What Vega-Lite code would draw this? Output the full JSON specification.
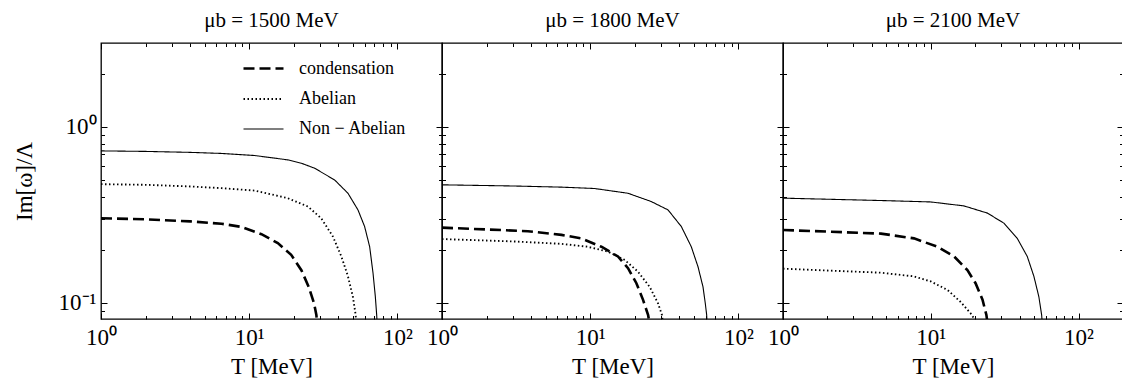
{
  "$schema": "https://vega.github.io/schema/vega-lite/v6.json",
  "autosize": {"type": "pad"},
  "padding": {"left": 12, "top": 8, "right": 0, "bottom": 0},
  "background": "white",
  "spacing": 0,
  "bounds": "flush",
  "config": {
    "font": "Liberation Serif",
    "view": {"stroke": "black", "strokeWidth": 1.3},
    "axis": {"domain": false, "grid": false, "tickColor": "black", "tickWidth": 1, "labelColor": "black", "titleColor": "black", "labelFontSize": 23, "titleFontSize": 23, "titleFontWeight": "normal", "labelOverlap": false, "labelFlush": false},
    "title": {"fontSize": 21, "fontWeight": "normal", "frame": "group", "anchor": "middle", "color": "black", "offset": 12},
    "legend": {"orient": "none", "legendX": 141, "legendY": 4, "labelFontSize": 18, "symbolType": "stroke", "symbolSize": 1600, "symbolStrokeColor": "black", "labelOffset": 14, "rowPadding": -2.5, "labelColor": "black"}
  },
  "data": {"values": [
    {"mu": 1500, "s": "Non − Abelian", "T": 1, "v": 0.730},
    {"mu": 1500, "s": "Non − Abelian", "T": 2, "v": 0.725},
    {"mu": 1500, "s": "Non − Abelian", "T": 4, "v": 0.716},
    {"mu": 1500, "s": "Non − Abelian", "T": 6.5, "v": 0.706},
    {"mu": 1500, "s": "Non − Abelian", "T": 10.9, "v": 0.687},
    {"mu": 1500, "s": "Non − Abelian", "T": 18.2, "v": 0.649},
    {"mu": 1500, "s": "Non − Abelian", "T": 22.5, "v": 0.621},
    {"mu": 1500, "s": "Non − Abelian", "T": 27.6, "v": 0.582},
    {"mu": 1500, "s": "Non − Abelian", "T": 37.7, "v": 0.499},
    {"mu": 1500, "s": "Non − Abelian", "T": 46.4, "v": 0.419},
    {"mu": 1500, "s": "Non − Abelian", "T": 54.2, "v": 0.337},
    {"mu": 1500, "s": "Non − Abelian", "T": 60.1, "v": 0.271},
    {"mu": 1500, "s": "Non − Abelian", "T": 65.0, "v": 0.208},
    {"mu": 1500, "s": "Non − Abelian", "T": 68.5, "v": 0.147},
    {"mu": 1500, "s": "Non − Abelian", "T": 71.0, "v": 0.108},
    {"mu": 1500, "s": "Non − Abelian", "T": 72.5, "v": 0.085},
    {"mu": 1500, "s": "Non − Abelian", "T": 73.0, "v": 0.075},
    {"mu": 1500, "s": "Abelian", "T": 1, "v": 0.472},
    {"mu": 1500, "s": "Abelian", "T": 2, "v": 0.468},
    {"mu": 1500, "s": "Abelian", "T": 4, "v": 0.458},
    {"mu": 1500, "s": "Abelian", "T": 6.5, "v": 0.448},
    {"mu": 1500, "s": "Abelian", "T": 10.9, "v": 0.434},
    {"mu": 1500, "s": "Abelian", "T": 18.2, "v": 0.393},
    {"mu": 1500, "s": "Abelian", "T": 24.9, "v": 0.352},
    {"mu": 1500, "s": "Abelian", "T": 30.6, "v": 0.302},
    {"mu": 1500, "s": "Abelian", "T": 36.7, "v": 0.238},
    {"mu": 1500, "s": "Abelian", "T": 41.9, "v": 0.183},
    {"mu": 1500, "s": "Abelian", "T": 46.4, "v": 0.141},
    {"mu": 1500, "s": "Abelian", "T": 50.1, "v": 0.108},
    {"mu": 1500, "s": "Abelian", "T": 52.3, "v": 0.085},
    {"mu": 1500, "s": "Abelian", "T": 52.8, "v": 0.075},
    {"mu": 1500, "s": "condensation", "T": 1, "v": 0.302},
    {"mu": 1500, "s": "condensation", "T": 2, "v": 0.298},
    {"mu": 1500, "s": "condensation", "T": 4, "v": 0.290},
    {"mu": 1500, "s": "condensation", "T": 6.5, "v": 0.281},
    {"mu": 1500, "s": "condensation", "T": 8.8, "v": 0.270},
    {"mu": 1500, "s": "condensation", "T": 12.1, "v": 0.245},
    {"mu": 1500, "s": "condensation", "T": 15.6, "v": 0.218},
    {"mu": 1500, "s": "condensation", "T": 19.2, "v": 0.187},
    {"mu": 1500, "s": "condensation", "T": 22.5, "v": 0.153},
    {"mu": 1500, "s": "condensation", "T": 25.2, "v": 0.123},
    {"mu": 1500, "s": "condensation", "T": 27.4, "v": 0.099},
    {"mu": 1500, "s": "condensation", "T": 28.4, "v": 0.085},
    {"mu": 1500, "s": "condensation", "T": 28.8, "v": 0.075},
    {"mu": 1800, "s": "Non − Abelian", "T": 1, "v": 0.468},
    {"mu": 1800, "s": "Non − Abelian", "T": 3, "v": 0.461},
    {"mu": 1800, "s": "Non − Abelian", "T": 6.4, "v": 0.454},
    {"mu": 1800, "s": "Non − Abelian", "T": 10.7, "v": 0.446},
    {"mu": 1800, "s": "Non − Abelian", "T": 18.0, "v": 0.419},
    {"mu": 1800, "s": "Non − Abelian", "T": 25.8, "v": 0.376},
    {"mu": 1800, "s": "Non − Abelian", "T": 33.5, "v": 0.337},
    {"mu": 1800, "s": "Non − Abelian", "T": 41.2, "v": 0.271},
    {"mu": 1800, "s": "Non − Abelian", "T": 48.1, "v": 0.208},
    {"mu": 1800, "s": "Non − Abelian", "T": 53.4, "v": 0.160},
    {"mu": 1800, "s": "Non − Abelian", "T": 57.7, "v": 0.123},
    {"mu": 1800, "s": "Non − Abelian", "T": 59.8, "v": 0.099},
    {"mu": 1800, "s": "Non − Abelian", "T": 61.1, "v": 0.085},
    {"mu": 1800, "s": "Non − Abelian", "T": 61.5, "v": 0.075},
    {"mu": 1800, "s": "Abelian", "T": 1, "v": 0.230},
    {"mu": 1800, "s": "Abelian", "T": 3, "v": 0.223},
    {"mu": 1800, "s": "Abelian", "T": 6.4, "v": 0.216},
    {"mu": 1800, "s": "Abelian", "T": 9.6, "v": 0.208},
    {"mu": 1800, "s": "Abelian", "T": 13.2, "v": 0.195},
    {"mu": 1800, "s": "Abelian", "T": 17.1, "v": 0.175},
    {"mu": 1800, "s": "Abelian", "T": 21.0, "v": 0.150},
    {"mu": 1800, "s": "Abelian", "T": 25.2, "v": 0.123},
    {"mu": 1800, "s": "Abelian", "T": 28.7, "v": 0.099},
    {"mu": 1800, "s": "Abelian", "T": 30.5, "v": 0.085},
    {"mu": 1800, "s": "Abelian", "T": 31.0, "v": 0.075},
    {"mu": 1800, "s": "condensation", "T": 1, "v": 0.267},
    {"mu": 1800, "s": "condensation", "T": 3.8, "v": 0.255},
    {"mu": 1800, "s": "condensation", "T": 6.4, "v": 0.243},
    {"mu": 1800, "s": "condensation", "T": 8.7, "v": 0.232},
    {"mu": 1800, "s": "condensation", "T": 11.9, "v": 0.208},
    {"mu": 1800, "s": "condensation", "T": 15.4, "v": 0.183},
    {"mu": 1800, "s": "condensation", "T": 18.0, "v": 0.157},
    {"mu": 1800, "s": "condensation", "T": 20.5, "v": 0.129},
    {"mu": 1800, "s": "condensation", "T": 22.7, "v": 0.104},
    {"mu": 1800, "s": "condensation", "T": 24.6, "v": 0.085},
    {"mu": 1800, "s": "condensation", "T": 25.2, "v": 0.075},
    {"mu": 2100, "s": "Non − Abelian", "T": 1, "v": 0.393},
    {"mu": 2100, "s": "Non − Abelian", "T": 4.6, "v": 0.381},
    {"mu": 2100, "s": "Non − Abelian", "T": 10, "v": 0.374},
    {"mu": 2100, "s": "Non − Abelian", "T": 16.8, "v": 0.355},
    {"mu": 2100, "s": "Non − Abelian", "T": 24.2, "v": 0.323},
    {"mu": 2100, "s": "Non − Abelian", "T": 31.3, "v": 0.283},
    {"mu": 2100, "s": "Non − Abelian", "T": 38.5, "v": 0.232},
    {"mu": 2100, "s": "Non − Abelian", "T": 45.0, "v": 0.183},
    {"mu": 2100, "s": "Non − Abelian", "T": 49.9, "v": 0.141},
    {"mu": 2100, "s": "Non − Abelian", "T": 53.9, "v": 0.108},
    {"mu": 2100, "s": "Non − Abelian", "T": 56.3, "v": 0.085},
    {"mu": 2100, "s": "Non − Abelian", "T": 56.9, "v": 0.075},
    {"mu": 2100, "s": "Abelian", "T": 1, "v": 0.156},
    {"mu": 2100, "s": "Abelian", "T": 4.6, "v": 0.148},
    {"mu": 2100, "s": "Abelian", "T": 7.7, "v": 0.141},
    {"mu": 2100, "s": "Abelian", "T": 10, "v": 0.132},
    {"mu": 2100, "s": "Abelian", "T": 13.0, "v": 0.118},
    {"mu": 2100, "s": "Abelian", "T": 15.9, "v": 0.101},
    {"mu": 2100, "s": "Abelian", "T": 18.6, "v": 0.087},
    {"mu": 2100, "s": "Abelian", "T": 20.3, "v": 0.078},
    {"mu": 2100, "s": "Abelian", "T": 20.7, "v": 0.075},
    {"mu": 2100, "s": "condensation", "T": 1, "v": 0.259},
    {"mu": 2100, "s": "condensation", "T": 4.6, "v": 0.247},
    {"mu": 2100, "s": "condensation", "T": 7.7, "v": 0.232},
    {"mu": 2100, "s": "condensation", "T": 11.1, "v": 0.208},
    {"mu": 2100, "s": "condensation", "T": 14.4, "v": 0.183},
    {"mu": 2100, "s": "condensation", "T": 17.7, "v": 0.153},
    {"mu": 2100, "s": "condensation", "T": 20.1, "v": 0.129},
    {"mu": 2100, "s": "condensation", "T": 22.4, "v": 0.104},
    {"mu": 2100, "s": "condensation", "T": 23.8, "v": 0.085},
    {"mu": 2100, "s": "condensation", "T": 24.3, "v": 0.075}
  ]},
  "hconcat": [
    {
      "width": 341, "height": 276,
      "title": {"text": "μb = 1500 MeV", "fontWeight": 400},
      "transform": [{"filter": "datum.mu == 1500"}],
      "layer": [
        {
          "mark": {"type": "line", "clip": true, "color": "black"},
          "encoding": {
            "x": {"field": "T", "type": "quantitative", "scale": {"type": "log", "domain": [1, 200], "nice": false},
              "axis": {"orient": "bottom", "values": [1,2,3,4,5,6,7,8,9,10,20,30,40,50,60,70,80,90,100], "labelExpr": "datum.value == 1 ? '10⁰' : datum.value == 10 ? '10¹' : datum.value == 100 ? '10²' : ''", "tickSize": {"condition": {"test": "indexof([1,10,100], datum.value) >= 0", "value": -6}, "value": -3.5}, "labelPadding": 13, "title": "T [MeV]", "titlePadding": 4}},
            "y": {"field": "v", "type": "quantitative", "scale": {"type": "log", "domain": [0.0807, 3], "nice": false},
              "axis": {"orient": "left", "values": [0.09,0.1,0.2,0.3,0.4,0.5,0.6,0.7,0.8,0.9,1,2], "labelExpr": "datum.value == 1 ? '10⁰' : datum.value == 0.1 ? '10⁻¹' : ''", "tickSize": {"condition": {"test": "indexof([0.1,1], datum.value) >= 0", "value": -6}, "value": -3.5}, "labelPadding": 11, "title": "Im[ω]/Λ", "titlePadding": 22}},
            "strokeDash": {"field": "s", "type": "nominal", "scale": {"domain": ["condensation", "Abelian", "Non − Abelian"], "range": [[11, 5], [1.5, 2.5], [1, 0]]}, "legend": {"title": null}},
            "strokeWidth": {"field": "s", "type": "nominal", "scale": {"domain": ["condensation", "Abelian", "Non − Abelian"], "range": [2.6, 1.1, 1.3]}, "legend": {"title": null}}
          }
        },
        {
          "mark": {"type": "point", "opacity": 0},
          "encoding": {
            "x": {"field": "T", "type": "quantitative", "axis": {"orient": "top", "values": [1,2,3,4,5,6,7,8,9,10,20,30,40,50,60,70,80,90,100], "labels": false, "title": null, "tickSize": {"condition": {"test": "indexof([1,10,100], datum.value) >= 0", "value": -6}, "value": -3.5}}},
            "y": {"field": "v", "type": "quantitative", "axis": {"orient": "right", "values": [0.09,0.1,0.2,0.3,0.4,0.5,0.6,0.7,0.8,0.9,1,2], "labels": false, "title": null, "tickSize": {"condition": {"test": "indexof([0.1,1], datum.value) >= 0", "value": -6}, "value": -3.5}}}
          }
        }
      ],
      "resolve": {"axis": {"x": "independent", "y": "independent"}}
    },
    {
      "width": 341, "height": 276,
      "title": {"text": "μb = 1800 MeV", "fontWeight": 400},
      "transform": [{"filter": "datum.mu == 1800"}],
      "layer": [
        {
          "mark": {"type": "line", "clip": true, "color": "black"},
          "encoding": {
            "x": {"field": "T", "type": "quantitative", "scale": {"type": "log", "domain": [1, 200], "nice": false},
              "axis": {"orient": "bottom", "values": [1,2,3,4,5,6,7,8,9,10,20,30,40,50,60,70,80,90,100], "labelExpr": "datum.value == 1 ? '10⁰' : datum.value == 10 ? '10¹' : datum.value == 100 ? '10²' : ''", "tickSize": {"condition": {"test": "indexof([1,10,100], datum.value) >= 0", "value": -6}, "value": -3.5}, "labelPadding": 13, "title": "T [MeV]", "titlePadding": 4}},
            "y": {"field": "v", "type": "quantitative", "scale": {"type": "log", "domain": [0.0807, 3], "nice": false},
              "axis": {"orient": "left", "values": [0.09,0.1,0.2,0.3,0.4,0.5,0.6,0.7,0.8,0.9,1,2], "labels": false, "title": null, "tickSize": {"condition": {"test": "indexof([0.1,1], datum.value) >= 0", "value": -6}, "value": -3.5}}},
            "strokeDash": {"field": "s", "type": "nominal", "scale": {"domain": ["condensation", "Abelian", "Non − Abelian"], "range": [[11, 5], [1.5, 2.5], [1, 0]]}, "legend": {"title": null}},
            "strokeWidth": {"field": "s", "type": "nominal", "scale": {"domain": ["condensation", "Abelian", "Non − Abelian"], "range": [2.6, 1.1, 1.3]}, "legend": {"title": null}}
          }
        },
        {
          "mark": {"type": "point", "opacity": 0},
          "encoding": {
            "x": {"field": "T", "type": "quantitative", "axis": {"orient": "top", "values": [1,2,3,4,5,6,7,8,9,10,20,30,40,50,60,70,80,90,100], "labels": false, "title": null, "tickSize": {"condition": {"test": "indexof([1,10,100], datum.value) >= 0", "value": -6}, "value": -3.5}}},
            "y": {"field": "v", "type": "quantitative", "axis": {"orient": "right", "values": [0.09,0.1,0.2,0.3,0.4,0.5,0.6,0.7,0.8,0.9,1,2], "labels": false, "title": null, "tickSize": {"condition": {"test": "indexof([0.1,1], datum.value) >= 0", "value": -6}, "value": -3.5}}}
          }
        }
      ],
      "resolve": {"axis": {"x": "independent", "y": "independent"}}
    },
    {
      "width": 340, "height": 276,
      "title": {"text": "μb = 2100 MeV", "fontWeight": 400},
      "transform": [{"filter": "datum.mu == 2100"}],
      "layer": [
        {
          "mark": {"type": "line", "clip": true, "color": "black"},
          "encoding": {
            "x": {"field": "T", "type": "quantitative", "scale": {"type": "log", "domain": [1, 200], "nice": false},
              "axis": {"orient": "bottom", "values": [1,2,3,4,5,6,7,8,9,10,20,30,40,50,60,70,80,90,100], "labelExpr": "datum.value == 1 ? '10⁰' : datum.value == 10 ? '10¹' : datum.value == 100 ? '10²' : ''", "tickSize": {"condition": {"test": "indexof([1,10,100], datum.value) >= 0", "value": -6}, "value": -3.5}, "labelPadding": 13, "title": "T [MeV]", "titlePadding": 4}},
            "y": {"field": "v", "type": "quantitative", "scale": {"type": "log", "domain": [0.0807, 3], "nice": false},
              "axis": {"orient": "left", "values": [0.09,0.1,0.2,0.3,0.4,0.5,0.6,0.7,0.8,0.9,1,2], "labels": false, "title": null, "tickSize": {"condition": {"test": "indexof([0.1,1], datum.value) >= 0", "value": -6}, "value": -3.5}}},
            "strokeDash": {"field": "s", "type": "nominal", "scale": {"domain": ["condensation", "Abelian", "Non − Abelian"], "range": [[11, 5], [1.5, 2.5], [1, 0]]}, "legend": {"title": null}},
            "strokeWidth": {"field": "s", "type": "nominal", "scale": {"domain": ["condensation", "Abelian", "Non − Abelian"], "range": [2.6, 1.1, 1.3]}, "legend": {"title": null}}
          }
        },
        {
          "mark": {"type": "point", "opacity": 0},
          "encoding": {
            "x": {"field": "T", "type": "quantitative", "axis": {"orient": "top", "values": [1,2,3,4,5,6,7,8,9,10,20,30,40,50,60,70,80,90,100], "labels": false, "title": null, "tickSize": {"condition": {"test": "indexof([1,10,100], datum.value) >= 0", "value": -6}, "value": -3.5}}},
            "y": {"field": "v", "type": "quantitative", "axis": {"orient": "right", "values": [0.09,0.1,0.2,0.3,0.4,0.5,0.6,0.7,0.8,0.9,1,2], "labels": false, "title": null, "tickSize": {"condition": {"test": "indexof([0.1,1], datum.value) >= 0", "value": -6}, "value": -3.5}}}
          }
        }
      ],
      "resolve": {"axis": {"x": "independent", "y": "independent"}}
    }
  ]
}
